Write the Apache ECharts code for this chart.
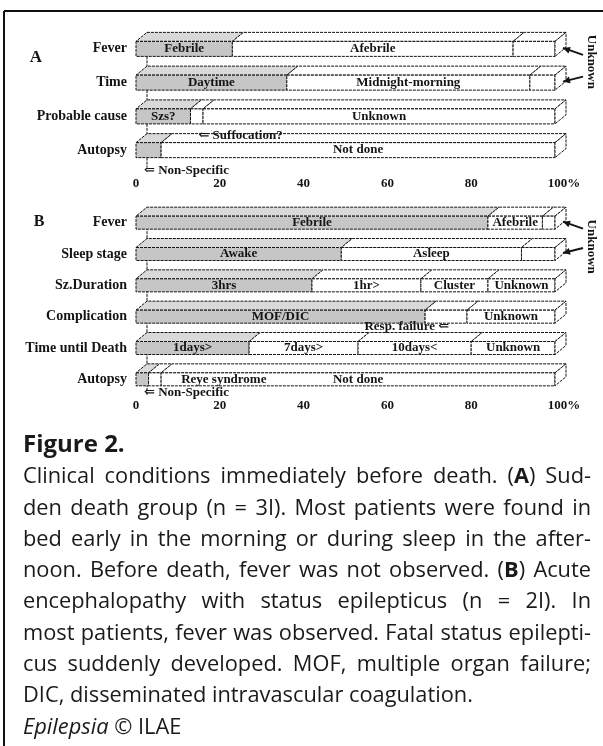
<!DOCTYPE html>
<html>
<head>
<meta charset="utf-8">
<script src="https://cdn.jsdelivr.net/npm/echarts@6/dist/echarts.min.js"></script>
<style>
  html, body { margin: 0; padding: 0; background: #fff; }
  #chart { width: 603px; height: 746px; }
</style>
</head>
<body>
<div id="chart"></div>
<script>
// Panel A: sudden death group (n = 31), % of patients per row
const rowsA = ['Fever', 'Time', 'Probable cause', 'Autopsy'];
const segNamesA = [
  ['Febrile', 'Afebrile', 'Unknown'],
  ['Daytime', 'Midnight-morning', 'Unknown'],
  ['Szs?', 'Suffocation?', 'Unknown'],
  ['Non-Specific', 'Not done']
];
const segValsA = [
  [23, 67, 10],
  [36, 58, 6],
  [13, 3, 84],
  [6, 94]
];

// Panel B: acute encephalopathy with status epilepticus (n = 21)
const rowsB = ['Fever', 'Sleep stage', 'Sz.Duration', 'Complication', 'Time until Death', 'Autopsy'];
const segNamesB = [
  ['Febrile', 'Afebrile', 'Unknown'],
  ['Awake', 'Asleep', 'Unknown'],
  ['3hrs', '1hr>', 'Cluster', 'Unknown'],
  ['MOF/DIC', 'Resp. failure', 'Unknown'],
  ['1days>', '7days>', '10days<', 'Unknown'],
  ['Non-Specific', 'Reye syndrome', 'Not done']
];
const segValsB = [
  [84, 13, 3],
  [49, 43, 8],
  [42, 26, 16, 16],
  [69, 10, 21],
  [27, 26, 27, 20],
  [3, 3, 94]
];

const xTicks = [0, 20, 40, 60, 80, 100];

const captionTitle = 'Figure 2.';
const captionLines = [
  'Clinical conditions immediately before death. (**A**) Sud-',
  'den death group (n = 3I). Most patients were found in',
  'bed early in the morning or during sleep in the after-',
  'noon. Before death, fever was not observed. (**B**) Acute',
  'encephalopathy with status epilepticus (n = 2I). In',
  'most patients, fever was observed. Fatal status epilepti-',
  'cus suddenly developed. MOF, multiple organ failure;',
  'DIC, disseminated intravascular coagulation.',
  '_Epilepsia_ © ILAE'
];

// ---- styling ----
const SERIF = '"Liberation Serif", "DejaVu Serif", serif';
const SANS = '"Open Sans", Lato, sans-serif';
const INK = '#141414';
const DX = 11, DY = -9;
const EDGE = { stroke: INK, lineWidth: 1, lineDash: [3, 1] };

// labels drawn outside the bar: [side, vertical offset from bar centre]
const outerLabelsA = { 'Suffocation?': ['under', 19], 'Non-Specific': ['under', 21] };
const outerLabelsB = { 'Non-Specific': ['under', 13], 'Resp. failure': ['underRight', 10], 'Reye syndrome': ['side', 0] };
// rows whose last "Unknown" piece is pointed at from the margin
const arrowRowsA = [0, 1];
const arrowRowsB = [0, 1];

function buildItems(vals) {
  const items = [];
  vals.forEach((row, r) => {
    let acc = 0;
    row.forEach((v, s) => {
      items.push([acc, acc + v, r, s]);
      acc += v;
    });
  });
  return items;
}

function labelText(text, x, y, align) {
  return {
    type: 'text', z2: 20,
    style: { text, x, y, align, verticalAlign: 'middle', font: 'bold 13px ' + SERIF, fill: INK }
  };
}

function makeRender(names, arrowRows, outer, unknownDy) {
  return function (params, api) {
    const start = api.value(0), end = api.value(1), row = api.value(2), seg = api.value(3);
    const name = names[row][seg];
    const last = seg === names[row].length - 1;
    const a = api.coord([start, row]);
    const b = api.coord([end, row]);
    const band = api.size([0, 1])[1];
    const h = Math.round(band * 0.43);
    const x0 = a[0], x1 = b[0], y = a[1], yt = y - h / 2;
    const shaded = seg === 0;
    const kids = [];

    if (seg === 0) {
      kids.push({ type: 'line', shape: { x1: x0 + DX, y1: yt + DY, x2: x0 + DX, y2: yt + DY + band }, style: EDGE });
    }
    kids.push({
      type: 'polygon',
      shape: { points: [[x0, yt], [x1, yt], [x1 + DX, yt + DY], [x0 + DX, yt + DY]] },
      style: Object.assign({ fill: shaded ? '#d9d9d9' : '#fff' }, EDGE)
    });
    kids.push({
      type: 'rect',
      shape: { x: x0, y: yt, width: x1 - x0, height: h },
      style: Object.assign({ fill: shaded ? '#c6c6c6' : '#fff' }, EDGE)
    });
    if (last) {
      kids.push({
        type: 'polygon',
        shape: { points: [[x1, yt], [x1 + DX, yt + DY], [x1 + DX, yt + DY + h], [x1, yt + h]] },
        style: Object.assign({ fill: '#fff' }, EDGE)
      });
    }

    const arrowed = last && arrowRows.indexOf(row) >= 0;
    const o = outer[name];
    if (arrowed) {
      const first = arrowRows.indexOf(row) === 0;
      const hx = x1 + 8, hy = y - 1;
      const tx = x1 + 28, ty = y + (first ? 6 : -6);
      const len = Math.hypot(hx - tx, hy - ty);
      const ux = (hx - tx) / len, uy = (hy - ty) / len;
      kids.push({ type: 'line', z2: 20, shape: { x1: tx, y1: ty, x2: hx, y2: hy }, style: { stroke: INK, lineWidth: 2 } });
      kids.push({
        type: 'polygon', z2: 20,
        shape: { points: [[hx, hy], [hx - 7 * ux - 3.5 * uy, hy - 7 * uy + 3.5 * ux], [hx - 7 * ux + 3.5 * uy, hy - 7 * uy - 3.5 * ux]] },
        style: { fill: INK }
      });
      if (first) {
        kids.push({
          type: 'text', z2: 20, x: x1 + 36, y: y + unknownDy, rotation: -Math.PI / 2,
          style: { text: 'Unknown', x: 0, y: 0, align: 'center', verticalAlign: 'middle', font: 'bold 13px ' + SERIF, fill: INK }
        });
      }
    } else if (o && o[0] === 'under') {
      kids.push(labelText('\u21D0 ' + name, x0 + 8, y + o[1], 'left'));
    } else if (o && o[0] === 'underRight') {
      kids.push(labelText(name + ' \u21D0', x0 + 24, y + o[1], 'right'));
    } else if (o && o[0] === 'side') {
      kids.push(labelText(name, x1 + 20, y + o[1], 'left'));
    } else {
      kids.push(labelText(name, (x0 + x1) / 2, y, 'center'));
    }
    return { type: 'group', children: kids };
  };
}

// ---- caption layout (justified, word by word) ----
const CAP_SIZE = 21.8;
const CAP_LEFT = 23, CAP_RIGHT = 591, CAP_TOP = 477, CAP_STEP = 31.3;
const ctx = document.createElement('canvas').getContext('2d');
function capFont(k) {
  return (k === 'i' ? 'italic ' : '') + (k === 'b' ? 'bold ' : '') + CAP_SIZE + 'px ' + SANS;
}
function splitPieces(word) {
  return word.split(/(\*\*[^*]+\*\*|_[^_]+_)/).filter(Boolean).map(p =>
    p.startsWith('**') ? { t: p.slice(2, -2), k: 'b' } :
    p.startsWith('_') ? { t: p.slice(1, -1), k: 'i' } : { t: p, k: 'n' });
}
function measure(t, k) { ctx.font = capFont(k); return ctx.measureText(t).width; }

const captionGraphics = [];
captionLines.forEach((line, i) => {
  const words = line.split(' ').map(splitPieces);
  const widths = words.map(ps => ps.reduce((s, p) => s + measure(p.t, p.k), 0));
  const total = widths.reduce((s, w) => s + w, 0);
  const justify = i < 7;
  const gap = justify ? Math.max(3, (CAP_RIGHT - CAP_LEFT - total) / (words.length - 1)) : measure(' ', 'n');
  let x = CAP_LEFT;
  const y = CAP_TOP + i * CAP_STEP;
  words.forEach((ps, wi) => {
    let px = x;
    ps.forEach(p => {
      captionGraphics.push({
        type: 'text', x: px, y,
        style: { text: p.t, font: capFont(p.k), fill: '#1a1a1a', align: 'left', verticalAlign: 'middle' }
      });
      px += measure(p.t, p.k);
    });
    x += widths[wi] + gap;
  });
});

const chart = echarts.init(document.getElementById('chart'));

const axisLabelX = (margin) => ({
  margin,
  color: INK,
  fontFamily: SERIF,
  fontWeight: 'bold',
  fontSize: 13,
  customValues: xTicks,
  formatter: v => (v === 100 ? '{p|100%}' : String(v)),
  rich: { p: { padding: [0, 0, 0, 18], fontFamily: SERIF, fontWeight: 'bold', fontSize: 13, color: INK } }
});
const axisLabelY = { margin: 9, color: INK, fontFamily: SERIF, fontWeight: 'bold', fontSize: 14 };

const option = {
  backgroundColor: '#fff',
  animation: false,
  grid: [
    { left: 136, right: 48, top: 32, height: 135 },
    { left: 136, right: 48, top: 207, height: 188 }
  ],
  xAxis: [
    { gridIndex: 0, type: 'value', min: 0, max: 100, interval: 20, axisLine: { show: false }, axisTick: { show: false }, splitLine: { show: false }, axisLabel: axisLabelX(10) },
    { gridIndex: 1, type: 'value', min: 0, max: 100, interval: 20, axisLine: { show: false }, axisTick: { show: false }, splitLine: { show: false }, axisLabel: axisLabelX(4) }
  ],
  yAxis: [
    { gridIndex: 0, type: 'category', inverse: true, data: rowsA, axisLine: { show: false }, axisTick: { show: false }, axisLabel: axisLabelY },
    { gridIndex: 1, type: 'category', inverse: true, data: rowsB, axisLine: { show: false }, axisTick: { show: false }, axisLabel: axisLabelY }
  ],
  series: [
    {
      type: 'custom', xAxisIndex: 0, yAxisIndex: 0,
      renderItem: makeRender(segNamesA, arrowRowsA, outerLabelsA, 13),
      encode: { x: [0, 1], y: 2 },
      data: buildItems(segValsA)
    },
    {
      type: 'custom', xAxisIndex: 1, yAxisIndex: 1,
      renderItem: makeRender(segNamesB, arrowRowsB, outerLabelsB, 24),
      encode: { x: [0, 1], y: 2 },
      data: buildItems(segValsB)
    }
  ],
  graphic: [
    { type: 'line', shape: { x1: 4, y1: 11, x2: 603, y2: 11 }, style: { stroke: '#111', lineWidth: 2 } },
    { type: 'line', shape: { x1: 4, y1: 11, x2: 4, y2: 746 }, style: { stroke: '#111', lineWidth: 2 } },
    { type: 'text', x: 36, y: 58, style: { text: 'A', font: 'bold 17px ' + SERIF, fill: INK, align: 'center', verticalAlign: 'middle' } },
    { type: 'text', x: 39, y: 222, style: { text: 'B', font: 'bold 16px ' + SERIF, fill: INK, align: 'center', verticalAlign: 'middle' } },
    { type: 'text', x: CAP_LEFT, y: 445, style: { text: captionTitle, font: 'bold 24px ' + SANS, fill: '#1a1a1a', align: 'left', verticalAlign: 'middle' } }
  ].concat(captionGraphics)
};

chart.setOption(option);
</script>
</body>
</html>
